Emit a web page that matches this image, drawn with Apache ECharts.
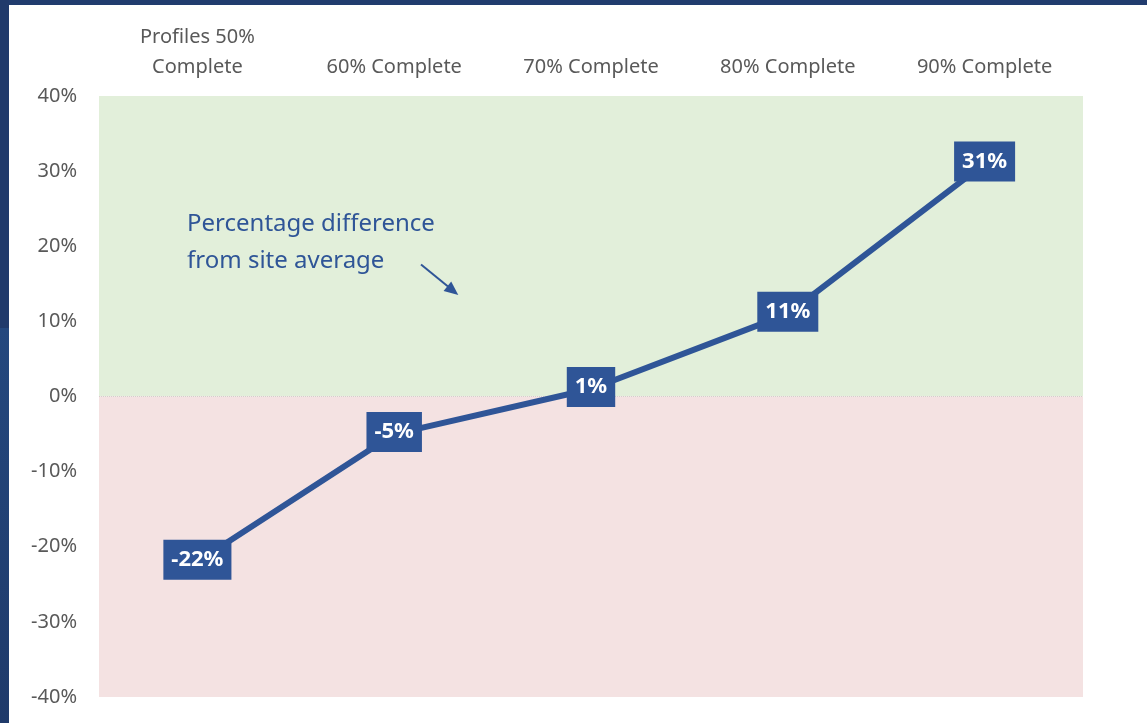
<!DOCTYPE html>
<html>
<head>
<meta charset="utf-8">
<script src="https://cdn.jsdelivr.net/npm/echarts@6/dist/echarts.min.js"></script>
<style>
html,body{margin:0;padding:0;background:#fff;}
#chart{width:1147px;height:723px;}
</style>
</head>
<body>
<div id="chart"></div>
<script>
const categories = ['Profiles 50%\nComplete', '60% Complete', '70% Complete', '80% Complete', '90% Complete'];
const values = [-22, -5, 1, 11, 31];
const yTicks = { min: -40, max: 40, interval: 10 };
const annotationText = 'Percentage difference\nfrom site average';

const BLUE = '#2f5597';
const FONT = '"Noto Sans", sans-serif';

const chart = echarts.init(document.getElementById('chart'), null, { renderer: 'canvas' });

chart.setOption({
  backgroundColor: '#ffffff',
  animation: false,
  grid: { left: 99, right: 64, top: 96, bottom: 26, containLabel: false },
  xAxis: {
    type: 'category',
    position: 'top',
    data: categories,
    boundaryGap: true,
    axisLine: { show: false },
    axisTick: { show: false },
    axisLabel: {
      color: '#595959',
      fontFamily: FONT,
      fontSize: 20,
      lineHeight: 30,
      margin: 14,
      interval: 0
    },
    splitLine: { show: false }
  },
  yAxis: {
    type: 'value',
    min: yTicks.min,
    max: yTicks.max,
    interval: yTicks.interval,
    axisLine: { show: false },
    axisTick: { show: false },
    splitLine: { show: false },
    axisLabel: {
      formatter: '{value}%',
      color: '#595959',
      fontFamily: FONT,
      fontSize: 20,
      margin: 22
    }
  },
  series: [{
    type: 'line',
    data: values,
    symbol: 'rect',
    symbolSize: 1,
    lineStyle: { color: BLUE, width: 6 },
    itemStyle: { color: BLUE },
    z: 3,
    label: {
      show: true,
      position: 'inside',
      offset: [0, -2],
      formatter: p => p.value + '%',
      color: '#ffffff',
      fontFamily: FONT,
      fontWeight: 'bold',
      fontSize: 22,
      lineHeight: 24,
      backgroundColor: BLUE,
      padding: [8, 8, 8, 8]
    },
    markArea: {
      silent: true,
      z: 1,
      data: [
        [{ yAxis: 0, itemStyle: { color: '#e2efda' } }, { yAxis: yTicks.max }],
        [{ yAxis: yTicks.min, itemStyle: { color: '#f4e2e2' } }, { yAxis: 0 }]
      ]
    },
    markLine: {
      silent: true,
      z: 1,
      symbol: 'none',
      label: { show: false },
      lineStyle: { color: '#d6cccc', width: 1, type: 'dotted' },
      data: [{ yAxis: 0 }]
    }
  }],
  graphic: [
    { type: 'rect', shape: { x: 0, y: 0, width: 1147, height: 5 }, style: { fill: '#213c6e' } },
    { type: 'rect', shape: { x: 0, y: 0, width: 9, height: 328 }, style: { fill: '#203a6b' } },
    { type: 'rect', shape: { x: 0, y: 328, width: 9, height: 395 },
      style: { fill: new echarts.graphic.LinearGradient(0, 0, 0, 1, [
        { offset: 0, color: '#24487e' }, { offset: 1, color: '#1f3a6a' }]) } },
    { type: 'text', left: 187, top: 206, z: 10,
      style: { text: annotationText, fill: BLUE, font: '24px "Noto Sans", sans-serif', lineHeight: 37 } },
    { type: 'line', z: 10, shape: { x1: 421, y1: 264.5, x2: 448, y2: 286.5 },
      style: { stroke: BLUE, lineWidth: 2 } },
    { type: 'polygon', z: 10, shape: { points: [[458.3, 295], [443.6, 291], [451.2, 281.6]] },
      style: { fill: BLUE } }
  ]
});
</script>
</body>
</html>
